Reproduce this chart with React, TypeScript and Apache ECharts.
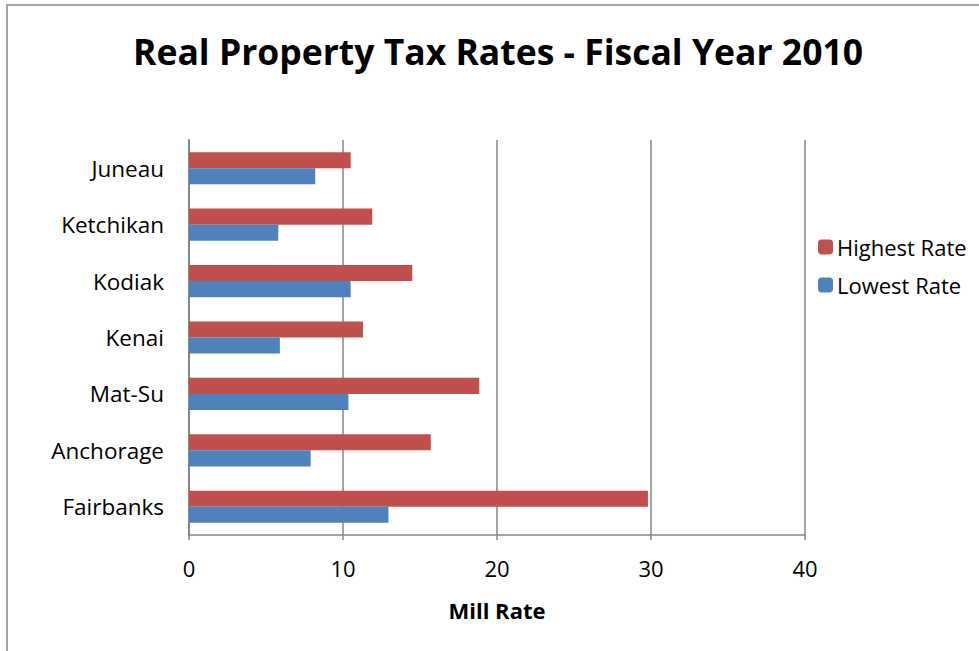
import React, { useEffect, useRef } from "react";
import * as echarts from "echarts";

const categories = ["Fairbanks", "Anchorage", "Mat-Su", "Kenai", "Kodiak", "Ketchikan", "Juneau"];
const highestRate = [29.8, 15.7, 18.85, 11.3, 14.5, 11.9, 10.5];
const lowestRate = [12.95, 7.9, 10.35, 5.9, 10.5, 5.8, 8.2];
const titleText = "Real Property Tax Rates - Fiscal Year 2010";
const axisName = "Mill Rate";

const FONT = "'Open Sans', 'Noto Sans', sans-serif";

export default function App() {
  const ref = useRef<HTMLDivElement>(null);
  useEffect(() => {
    const chart = echarts.init(ref.current!, undefined, { renderer: "svg" });
    chart.setOption({
      animation: false,
      backgroundColor: "#ffffff",
      textStyle: { fontFamily: FONT },
      title: {
        text: titleText,
        left: 128,
        top: 28,
        textStyle: { fontFamily: FONT, fontWeight: "bold", fontSize: 35.5, color: "#000" },
      },
      graphic: [
        {
          type: "rect",
          shape: { x: 7, y: 5, width: 1000, height: 700 },
          style: { fill: "none", stroke: "#888888", lineWidth: 1.5 },
          silent: true,
        },
      ],
      legend: {
        orient: "vertical",
        left: 813,
        top: 231,
        itemWidth: 15,
        itemHeight: 15,
        itemGap: 16,
        data: ["Highest Rate", "Lowest Rate"],
        textStyle: { fontFamily: FONT, fontSize: 22, color: "#000", padding: [0, 0, 0, -1] },
      },
      grid: { left: 189, right: 174, top: 140, bottom: 116, containLabel: false },
      xAxis: {
        type: "value",
        min: 0,
        max: 40,
        interval: 10,
        name: axisName,
        nameLocation: "middle",
        nameGap: 64,
        nameTextStyle: { fontFamily: FONT, fontWeight: "bold", fontSize: 22, color: "#000" },
        axisLine: { show: true, lineStyle: { color: "#868686", width: 1.5 } },
        axisTick: { show: true, length: 5, lineStyle: { color: "#868686", width: 1.5 } },
        axisLabel: { fontFamily: FONT, fontSize: 22, color: "#000", margin: 22 },
        splitLine: { show: true, lineStyle: { color: "#868686", width: 1.5 } },
      },
      yAxis: {
        type: "category",
        data: categories,
        axisLine: { show: true, lineStyle: { color: "#868686", width: 2 } },
        axisTick: { show: false },
        axisLabel: { fontFamily: FONT, fontSize: 22.5, color: "#000", margin: 25 },
      },
      series: [
        {
          name: "Highest Rate",
          type: "bar",
          data: highestRate,
          barGap: "0%",
          barCategoryGap: "43%",
          itemStyle: { color: "#C0504D" },
        },
        {
          name: "Lowest Rate",
          type: "bar",
          data: lowestRate,
          barGap: "0%",
          barCategoryGap: "43%",
          itemStyle: { color: "#4F81BD" },
        },
      ],
    });
    return () => chart.dispose();
  }, []);
  return (
    <div
      ref={ref}
      style={{ position: "fixed", left: 0, top: 0, width: 979, height: 651 }}
    />
  );
}
